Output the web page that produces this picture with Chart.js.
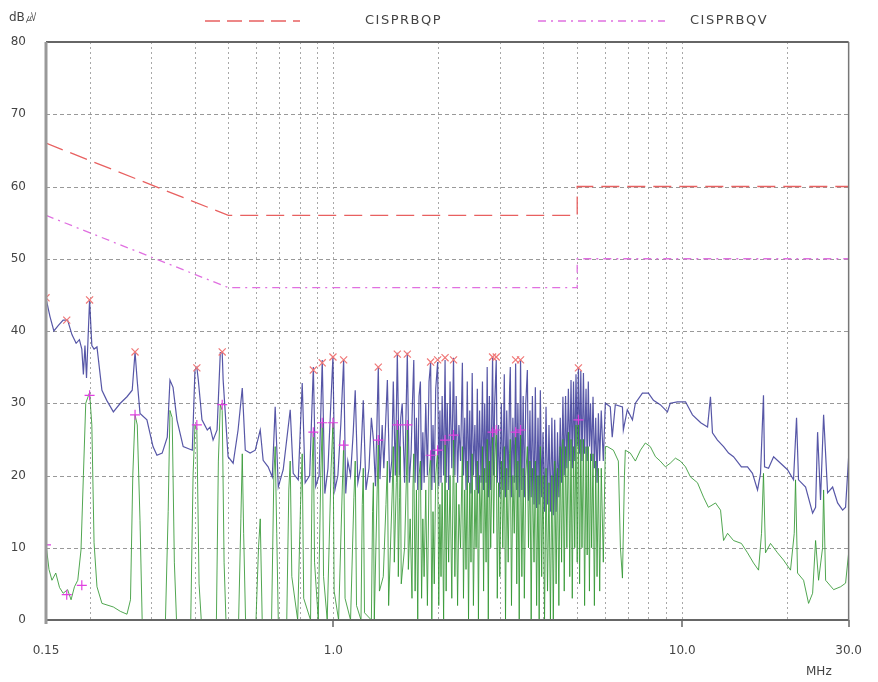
<!DOCTYPE html>
<html>
<head>
<meta charset="utf-8">
<script src="https://cdn.jsdelivr.net/npm/chart.js@4.4.0/dist/chart.umd.min.js"></script>
<style>
  html, body { margin: 0; padding: 0; background: #fff; }
  #wrap { width: 878px; height: 682px; }
</style>
</head>
<body>
<div id="wrap"><canvas id="emi" width="878" height="682"></canvas></div>
<script>
// frequency axis (MHz)
const gridFreqs = [0.15, 0.2, 0.3, 0.4, 0.5, 0.6, 0.7, 0.8, 0.9, 1, 2, 3, 4, 5, 6, 7, 8, 9, 10, 20, 30];
const freqLabels = { 0.15: '0.15', 1: '1.0', 10: '10.0', 30: '30.0' };
const levelTicks = [0, 10, 20, 30, 40, 50, 60, 70, 80];

// limit lines
const qpLimitFreq = [0.15, 0.5, 5, 5, 30];
const qpLimitLevel = [66, 56, 56, 60, 60];
const avLimitFreq = [0.15, 0.5, 5, 5, 30];
const avLimitLevel = [56, 46, 46, 50, 50];

// peak scan (blue)
const peakFreq = [
  0.150, 0.154, 0.158, 0.163, 0.168, 0.173, 0.178, 0.183, 0.187, 0.190,
  0.192, 0.194, 0.196, 0.198, 0.200, 0.203, 0.206, 0.210, 0.217, 0.224,
  0.234, 0.245, 0.256, 0.265, 0.270, 0.274, 0.279, 0.292, 0.304, 0.312,
  0.323, 0.334, 0.340, 0.347, 0.356, 0.371, 0.394, 0.401, 0.406, 0.410,
  0.420, 0.435, 0.443, 0.452, 0.464, 0.474, 0.480, 0.483, 0.499, 0.516,
  0.533, 0.548, 0.559, 0.577, 0.597, 0.617, 0.629, 0.650, 0.668, 0.681,
  0.695, 0.718, 0.752, 0.767, 0.793, 0.814, 0.830, 0.855, 0.876, 0.890,
  0.910, 0.929, 0.945, 0.965, 0.997, 1.010, 1.030, 1.050, 1.070, 1.085,
  1.100, 1.120, 1.140, 1.155, 1.175, 1.195, 1.218, 1.240, 1.265, 1.285,
  1.302, 1.320, 1.345, 1.360, 1.380, 1.395, 1.428, 1.450, 1.470, 1.485,
  1.505, 1.525, 1.545, 1.560, 1.575, 1.600, 1.629, 1.650, 1.670, 1.685,
  1.700, 1.715, 1.730, 1.745, 1.760, 1.776, 1.790, 1.805, 1.820, 1.840,
  1.860, 1.880, 1.900, 1.915, 1.930, 1.946, 1.965, 1.990, 2.005, 2.020,
  2.035, 2.050, 2.070, 2.090, 2.105, 2.120, 2.140, 2.160, 2.185, 2.210,
  2.230, 2.250, 2.270, 2.290, 2.315, 2.343, 2.360, 2.380, 2.400, 2.420,
  2.440, 2.460, 2.480, 2.500, 2.520, 2.545, 2.565, 2.586, 2.605, 2.625,
  2.650, 2.675, 2.695, 2.715, 2.740, 2.760, 2.780, 2.800, 2.825, 2.860,
  2.880, 2.900, 2.930, 2.950, 2.975, 3.000, 3.030, 3.060, 3.090, 3.115,
  3.140, 3.170, 3.200, 3.215, 3.240, 3.270, 3.300, 3.330, 3.355, 3.380,
  3.410, 3.440, 3.470, 3.500, 3.527, 3.560, 3.598, 3.625, 3.660, 3.690,
  3.720, 3.760, 3.793, 3.825, 3.860, 3.890, 3.920, 3.955, 3.990, 4.030,
  4.070, 4.110, 4.150, 4.190, 4.230, 4.270, 4.310, 4.350, 4.390, 4.430,
  4.470, 4.510, 4.550, 4.590, 4.630, 4.670, 4.717, 4.760, 4.800, 4.840,
  4.880, 4.920, 4.960, 5.000, 5.040, 5.080, 5.120, 5.160, 5.210, 5.250,
  5.300, 5.340, 5.380, 5.420, 5.460, 5.500, 5.550, 5.600, 5.650, 5.700,
  5.750, 5.800, 5.860, 5.940, 6.020, 6.220, 6.300, 6.430, 6.740, 6.780,
  6.960, 7.200, 7.340, 7.690, 8.000, 8.270, 8.650, 9.070, 9.240, 9.690,
  10.22, 10.70, 11.30, 11.82, 12.05, 12.21, 12.62, 13.14, 13.58, 14.03,
  14.78, 15.39, 15.90, 16.44, 16.77, 17.10, 17.22, 17.68, 18.28, 19.14,
  20.04, 20.85, 21.27, 21.55, 22.58, 23.65, 24.12, 24.44, 24.92, 25.43,
  26.11, 26.99, 27.89, 28.83, 29.40, 30.00
];
const peakLevel = [
  44.5, 42.0, 40.0, 40.8, 41.5, 41.5, 39.5, 38.3, 38.8, 37.5,
  34.0, 38.0, 33.5, 39.0, 44.3, 38.0, 37.5, 37.8, 31.8, 30.4,
  28.8, 30.0, 30.9, 31.8, 37.1, 33.0, 28.6, 27.7, 24.0, 22.8,
  23.1, 25.3, 33.2, 32.2, 27.7, 24.0, 23.5, 34.6, 35.0, 33.2,
  27.7, 26.3, 26.7, 24.9, 26.3, 37.0, 37.0, 33.2, 22.6, 21.7,
  26.3, 32.1, 23.5, 23.1, 23.5, 26.3, 22.1, 21.2, 19.8, 29.5,
  18.4, 20.8, 29.1, 20.3, 19.4, 32.8, 19.0, 20.0, 35.0, 18.5,
  20.0, 36.0, 17.5, 21.0, 36.5, 18.0, 20.0, 27.0, 36.0, 17.5,
  22.0, 20.0, 26.0, 31.8, 19.0, 21.0, 30.4, 18.0, 21.0, 28.0,
  25.0, 18.5, 35.0, 19.5, 27.0, 21.0, 33.2, 19.0, 22.0, 33.0,
  20.0, 37.0, 20.0, 28.0, 30.0, 19.0, 37.0, 19.0, 23.0, 30.0,
  36.0, 19.0, 28.0, 18.0, 31.0, 33.0, 18.0, 26.0, 19.0, 30.0,
  20.0, 33.0, 35.6, 18.0, 27.0, 19.0, 32.0, 35.7, 18.5, 29.0,
  19.0, 31.0, 20.0, 36.0, 19.0, 30.0, 18.0, 33.0, 21.0, 36.3,
  20.0, 31.0, 19.0, 27.0, 22.0, 35.6, 20.0, 28.0, 18.0, 33.0,
  19.0, 29.0, 17.5, 34.2, 20.0, 27.0, 18.0, 32.0, 17.5, 29.0,
  19.0, 33.0, 18.0, 30.0, 19.0, 35.0, 17.0, 31.0, 18.0, 36.4,
  20.0, 30.0, 36.0, 19.0, 27.0, 17.0, 30.0, 18.0, 34.0, 17.0,
  29.0, 18.0, 32.0, 35.0, 17.0, 28.0, 19.0, 35.5, 18.0, 30.0,
  17.0, 36.0, 18.0, 31.0, 17.0, 30.0, 34.6, 16.5, 29.0, 17.0,
  31.0, 16.0, 32.2, 15.5, 28.0, 16.0, 31.8, 17.0, 26.0, 15.0,
  29.5, 16.0, 27.0, 15.0, 28.0, 14.5, 27.7, 15.0, 26.0, 17.0,
  28.0, 19.0, 30.9, 20.0, 31.0, 21.0, 32.0, 22.0, 33.2, 21.0,
  33.0, 22.0, 34.0, 24.0, 35.0, 23.0, 34.5, 22.0, 34.2, 23.0,
  32.0, 22.0, 33.0, 24.0, 30.0, 22.0, 30.9, 21.0, 28.0, 19.0,
  28.6, 22.0, 29.0, 22.0, 30.0, 29.5, 25.3, 29.8, 29.5, 26.3,
  29.1, 27.7, 30.0, 31.4, 31.4, 30.4, 29.8, 28.8, 30.0, 30.2,
  30.2, 28.4, 27.3, 26.7, 30.9, 25.9, 24.9, 24.0, 23.1, 22.6,
  21.2, 21.2, 20.3, 18.0, 20.3, 31.1, 21.2, 21.0, 22.6, 21.7,
  20.8, 19.4, 28.0, 19.4, 18.4, 14.8, 15.6, 26.0, 16.6, 28.4,
  17.6, 18.4, 16.2, 15.2, 15.6, 22.6
];

// average scan (green)
const avgFreq = [
  0.150, 0.153, 0.156, 0.160, 0.164, 0.168, 0.173, 0.177, 0.181, 0.185,
  0.189, 0.192, 0.195, 0.200, 0.203, 0.206, 0.210, 0.217, 0.234, 0.245,
  0.256, 0.262, 0.266, 0.270, 0.274, 0.279, 0.283, 0.330, 0.336, 0.340,
  0.345, 0.350, 0.355, 0.390, 0.396, 0.401, 0.406, 0.412, 0.418, 0.462,
  0.468, 0.474, 0.480, 0.486, 0.492, 0.535, 0.543, 0.548, 0.553, 0.560,
  0.600, 0.610, 0.617, 0.625, 0.665, 0.675, 0.681, 0.688, 0.695, 0.735,
  0.745, 0.752, 0.760, 0.790, 0.805, 0.814, 0.822, 0.860, 0.870, 0.876,
  0.883, 0.905, 0.920, 0.929, 0.937, 0.960, 0.985, 0.997, 1.005, 1.035,
  1.060, 1.070, 1.080, 1.120, 1.145, 1.155, 1.165, 1.200, 1.210, 1.218,
  1.228, 1.285, 1.295, 1.302, 1.310, 1.335, 1.345, 1.355, 1.390, 1.415,
  1.428, 1.440, 1.475, 1.485, 1.495, 1.515, 1.525, 1.535, 1.548, 1.556,
  1.565, 1.600, 1.620, 1.629, 1.640, 1.660, 1.680, 1.690,
  1.700, 1.715, 1.730, 1.745, 1.760, 1.776, 1.790, 1.805, 1.820, 1.840,
  1.860, 1.880, 1.900, 1.915, 1.930, 1.946, 1.965, 1.990, 2.005, 2.020,
  2.035, 2.050, 2.070, 2.090, 2.105, 2.120, 2.140, 2.160, 2.185, 2.210,
  2.230, 2.250, 2.270, 2.290, 2.315, 2.343, 2.360, 2.380, 2.400, 2.420,
  2.440, 2.460, 2.480, 2.500, 2.520, 2.545, 2.565, 2.586, 2.605, 2.625,
  2.650, 2.675, 2.695, 2.715, 2.740, 2.760, 2.780, 2.800, 2.825, 2.860,
  2.880, 2.900, 2.930, 2.950, 2.975, 3.000, 3.030, 3.060, 3.090, 3.115,
  3.140, 3.170, 3.200, 3.215, 3.240, 3.270, 3.300, 3.330, 3.355, 3.380,
  3.410, 3.440, 3.470, 3.500, 3.527, 3.560, 3.598, 3.625, 3.660, 3.690,
  3.720, 3.760, 3.793, 3.825, 3.860, 3.890, 3.920, 3.955, 3.990, 4.030,
  4.070, 4.110, 4.150, 4.190, 4.230, 4.270, 4.310, 4.350, 4.390, 4.430,
  4.470, 4.510, 4.550, 4.590, 4.630, 4.670, 4.717, 4.760, 4.800, 4.840,
  4.880, 4.920, 4.960, 5.000, 5.040, 5.080, 5.120, 5.160, 5.210, 5.250,
  5.300, 5.340, 5.380, 5.420, 5.460, 5.500, 5.550, 5.600, 5.650, 5.700,
  5.750, 5.800, 5.860, 5.940, 6.020, 6.100, 6.350, 6.560, 6.650, 6.740,
  6.830, 6.870, 7.100, 7.340, 7.590, 7.840, 8.100, 8.380, 8.650, 8.950,
  9.240, 9.560, 9.880, 10.22, 10.56, 11.06, 11.51, 11.89, 12.46, 12.88,
  13.14, 13.49, 14.03, 14.78, 15.39, 16.01, 16.55, 16.88, 17.10, 17.33,
  17.91, 18.76, 19.52, 20.44, 20.95, 21.13, 21.41, 22.28, 23.03, 23.65,
  24.12, 24.60, 25.26, 25.43, 25.77, 27.17, 28.45, 29.40, 30.00
];
const avgLevel = [
  10.5, 7.0, 5.5, 6.5, 4.5, 3.7, 4.2, 2.8, 4.6, 5.5,
  9.7, 20.0, 30.0, 31.5, 27.0, 10.7, 4.6, 2.3, 1.8, 1.2,
  0.8, 2.8, 20.0, 28.4, 27.0, 13.8, 0.0, 0.0, 15.0, 29.0,
  28.0, 8.0, 0.0, 0.0, 20.0, 27.0, 26.5, 5.0, 0.0, 0.0,
  22.0, 29.8, 29.0, 8.0, 0.0, 0.0, 14.0, 23.0, 12.0, 0.0,
  0.0, 10.0, 14.0, 0.0, 0.0, 20.0, 24.0, 12.0, 0.0, 0.0,
  18.0, 22.0, 6.0, 0.0, 16.0, 23.0, 3.0, 0.0, 22.0, 26.0,
  8.0, 0.0, 20.0, 27.3, 6.0, 0.0, 21.0, 27.3, 4.0, 0.0,
  18.0, 24.2, 3.0, 0.0, 17.0, 22.0, 2.0, 0.0, 16.0, 21.0,
  1.0, 0.0, 15.0, 19.0, 0.0, 18.0, 24.9, 4.0, 6.0, 16.0,
  22.0, 2.0, 18.0, 24.0, 8.0, 19.0, 27.0, 6.0, 17.0, 24.0,
  5.0, 10.0, 20.0, 27.0, 7.0, 14.0, 3.0, 18.0,
  23.0, 4.0, 18.0, 0.0, 20.0, 22.0, 3.0, 14.0, 6.0, 18.0,
  2.0, 20.0, 22.8, 0.0, 15.0, 5.0, 20.0, 23.5, 2.0, 16.0,
  6.0, 19.0, 0.0, 24.9, 4.0, 18.0, 8.0, 20.0, 3.0, 25.6,
  6.0, 19.0, 2.0, 16.0, 10.0, 24.0, 3.0, 18.0, 7.0, 22.0,
  0.0, 19.0, 8.0, 23.0, 2.0, 18.0, 10.0, 22.0, 0.0, 20.0,
  12.0, 24.0, 4.0, 21.0, 8.0, 25.0, 0.0, 22.0, 10.0, 26.0,
  12.0, 22.0, 26.3, 3.0, 19.0, 6.0, 22.0, 10.0, 24.0, 0.0,
  21.0, 8.0, 23.0, 25.0, 2.0, 20.0, 12.0, 26.0, 5.0, 22.0,
  0.0, 26.3, 6.0, 21.0, 3.0, 20.0, 24.0, 10.0, 22.0, 0.0,
  21.0, 8.0, 22.0, 2.0, 20.0, 0.0, 24.0, 6.0, 20.0, 0.0,
  21.0, 4.0, 19.0, 0.0, 20.0, 0.0, 22.0, 5.0, 21.0, 2.0,
  24.0, 8.0, 25.0, 4.0, 24.0, 10.0, 26.0, 6.0, 25.0, 3.0,
  24.0, 10.0, 27.0, 8.0, 27.7, 5.0, 25.0, 10.0, 25.0, 2.0,
  24.0, 9.0, 24.0, 4.0, 23.0, 10.0, 23.0, 2.0, 22.0, 6.0,
  21.0, 4.0, 21.0, 8.0, 24.0, 24.0, 23.5, 22.0, 10.0, 5.8,
  20.0, 23.5, 23.1, 22.0, 23.5, 24.5, 24.0, 22.6, 22.0, 21.2,
  21.7, 22.4, 22.0, 21.2, 19.8, 19.0, 17.0, 15.6, 16.2, 15.2,
  11.0, 12.0, 11.0, 10.6, 9.3, 7.9, 6.9, 12.0, 20.3, 9.3,
  10.6, 9.3, 8.3, 6.9, 12.0, 19.4, 6.5, 5.5, 2.3, 3.7,
  11.0, 5.5, 10.0, 18.0, 5.5, 4.2, 4.6, 5.1, 9.3
];

// quasi-peak readings (x) and average readings (+)
const qpMarkFreq = [0.150, 0.172, 0.200, 0.270, 0.406, 0.480, 0.876, 0.929, 0.997, 1.070, 1.345,
  1.525, 1.629, 1.900, 1.990, 2.090, 2.210, 2.860, 2.930, 3.330, 3.440, 5.040];
const qpMarkLevel = [44.6, 41.5, 44.3, 37.1, 34.9, 37.1, 34.6, 35.6, 36.4, 36.0, 35.0,
  36.8, 36.8, 35.7, 36.0, 36.3, 36.0, 36.4, 36.4, 36.0, 36.0, 34.9];
const avMarkFreq = [0.150, 0.172, 0.190, 0.200, 0.270, 0.406, 0.480, 0.876, 0.929, 0.997, 1.070, 1.345,
  1.525, 1.629, 1.900, 1.990, 2.090, 2.210, 2.860, 2.930, 3.330, 3.440, 5.040];
const avMarkLevel = [10.4, 3.5, 4.8, 31.1, 28.4, 27.0, 29.8, 26.0, 27.3, 27.3, 24.2, 24.9,
  27.0, 27.0, 22.8, 23.5, 24.9, 25.6, 26.0, 26.3, 26.0, 26.3, 27.7];

function pairs(xs, ys) {
  return xs.map((x, i) => ({ x: x, y: ys[i] }));
}

const labelFont = { family: 'DejaVu Sans', size: 12 };
const textColor = '#444';

// dotted / dashed grid drawn under the traces
const gridPlugin = {
  id: 'emiGrid',
  beforeDatasetsDraw(chart) {
    const ctx = chart.ctx;
    const a = chart.chartArea;
    const xs = chart.scales.x, ys = chart.scales.y;
    ctx.save();
    ctx.lineWidth = 1;
    ctx.strokeStyle = '#a8a8a8';
    ctx.setLineDash([2, 3]);
    gridFreqs.forEach(f => {
      if (f === 0.15 || f === 30) return;
      const px = Math.round(xs.getPixelForValue(f)) + 0.5;
      ctx.beginPath(); ctx.moveTo(px, a.top); ctx.lineTo(px, a.bottom); ctx.stroke();
    });
    ctx.strokeStyle = '#999';
    ctx.setLineDash([4, 3]);
    levelTicks.forEach(v => {
      if (v === 0 || v === 80) return;
      const py = Math.round(ys.getPixelForValue(v)) + 0.5;
      ctx.beginPath(); ctx.moveTo(a.left, py); ctx.lineTo(a.right, py); ctx.stroke();
    });
    ctx.restore();
  }
};

// frame, tick marks, legend and unit labels
const decorPlugin = {
  id: 'decor',
  afterDraw(chart) {
    const ctx = chart.ctx;
    const a = chart.chartArea;
    const xs = chart.scales.x;
    ctx.save();
    ctx.setLineDash([]);
    ctx.strokeStyle = '#666';
    ctx.lineWidth = 2;
    ctx.beginPath();
    ctx.moveTo(a.left, a.top); ctx.lineTo(a.right, a.top);
    ctx.moveTo(a.left, a.bottom); ctx.lineTo(a.right, a.bottom);
    ctx.stroke();
    ctx.lineWidth = 1.5;
    ctx.beginPath();
    [1, 10, 30].forEach(f => {
      const px = Math.round(xs.getPixelForValue(f));
      ctx.moveTo(px, a.bottom); ctx.lineTo(px, a.bottom + 7);
    });
    ctx.stroke();
    ctx.strokeStyle = '#999';
    ctx.lineWidth = 3;
    ctx.beginPath();
    ctx.moveTo(a.left, a.top); ctx.lineTo(a.left, a.bottom + 4);
    ctx.stroke();
    ctx.strokeStyle = '#777';
    ctx.lineWidth = 1.5;
    ctx.beginPath();
    ctx.moveTo(a.right, a.top); ctx.lineTo(a.right, a.bottom);
    ctx.stroke();

    // legend
    ctx.lineWidth = 1.3;
    ctx.strokeStyle = '#e86060';
    ctx.setLineDash([15, 7]);
    ctx.beginPath(); ctx.moveTo(205, 21); ctx.lineTo(300, 21); ctx.stroke();
    ctx.strokeStyle = '#e070e0';
    ctx.setLineDash([8, 5, 2, 5]);
    ctx.beginPath(); ctx.moveTo(538, 21); ctx.lineTo(665, 21); ctx.stroke();
    ctx.setLineDash([]);
    ctx.fillStyle = textColor;
    ctx.font = '13px "DejaVu Sans"';
    ctx.textBaseline = 'middle';
    ctx.textAlign = 'left';
    ctx.letterSpacing = '1.5px';
    ctx.fillText('CISPRBQP', 365, 21);
    ctx.fillText('CISPRBQV', 690, 21);
    ctx.letterSpacing = '0px';
    ctx.font = '12px "DejaVu Sans"';
    ctx.fillText('dB\u33B6', 9, 18);
    ctx.fillText('MHz', 806, 672);
    ctx.restore();
  }
};

new Chart(document.getElementById('emi'), {
  type: 'line',
  data: {
    datasets: [
      {
        label: 'QP', data: pairs(qpMarkFreq, qpMarkLevel), showLine: false, order: 0,
        pointStyle: 'crossRot', pointRadius: 5, pointBorderWidth: 1.2,
        borderColor: '#f07878', backgroundColor: '#f07878'
      },
      {
        label: 'AV', data: pairs(avMarkFreq, avMarkLevel), showLine: false, order: 0,
        pointStyle: 'cross', pointRadius: 5, pointBorderWidth: 1.2,
        borderColor: '#e040e0', backgroundColor: '#e040e0'
      },
      {
        label: 'CISPRBQP', data: pairs(qpLimitFreq, qpLimitLevel), order: 1,
        borderColor: '#e86060', borderWidth: 1.3, borderDash: [18, 8], pointRadius: 0, tension: 0
      },
      {
        label: 'CISPRBQV', data: pairs(avLimitFreq, avLimitLevel), order: 1,
        borderColor: '#e070e0', borderWidth: 1.3, borderDash: [8, 5, 2, 5], pointRadius: 0, tension: 0
      },
      {
        label: 'Average', data: pairs(avgFreq, avgLevel), order: 2,
        borderColor: 'rgba(50,150,50,0.85)', borderWidth: 1, pointRadius: 0, tension: 0
      },
      {
        label: 'Peak', data: pairs(peakFreq, peakLevel), order: 3,
        borderColor: 'rgba(45,45,145,0.8)', borderWidth: 1.2, pointRadius: 0, tension: 0
      }
    ]
  },
  options: {
    responsive: false,
    animation: false,
    devicePixelRatio: 1,
    layout: { padding: { top: 42, right: 23, left: 0, bottom: 0 } },
    plugins: { legend: { display: false }, tooltip: { enabled: false } },
    scales: {
      x: {
        type: 'logarithmic',
        min: 0.15,
        max: 30,
        afterBuildTicks: (scale) => { scale.ticks = gridFreqs.map(v => ({ value: v })); },
        afterFit: (scale) => { scale.height = 62; },
        ticks: {
          autoSkip: false, maxRotation: 0, color: textColor, font: labelFont, padding: 16,
          callback: (v) => freqLabels[v] || ''
        },
        grid: { display: false },
        border: { display: false }
      },
      y: {
        min: 0,
        max: 80,
        afterBuildTicks: (scale) => { scale.ticks = levelTicks.map(v => ({ value: v })); },
        afterFit: (scale) => { scale.width = 46; },
        ticks: { color: textColor, font: labelFont, padding: 12 },
        grid: { display: false },
        border: { display: false }
      }
    }
  },
  plugins: [gridPlugin, decorPlugin]
});
</script>
</body>
</html>
